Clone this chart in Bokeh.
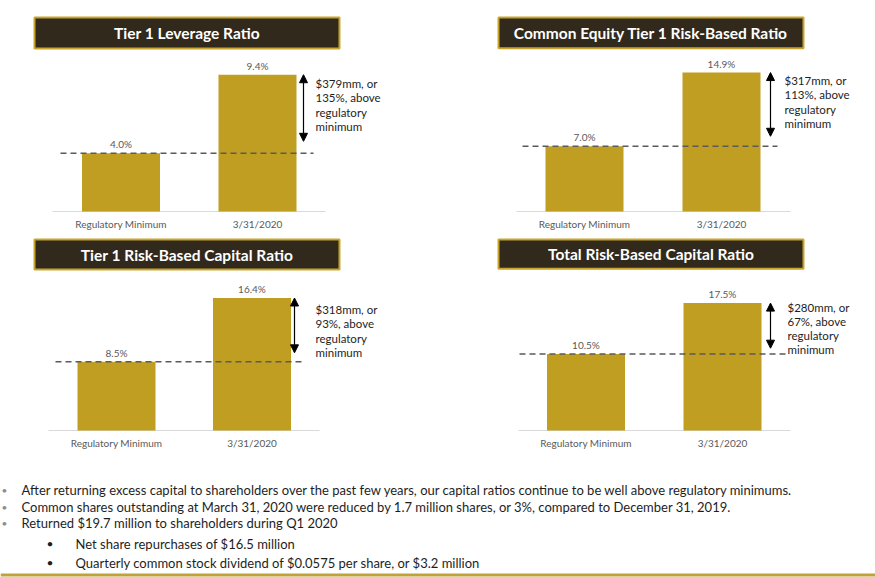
from bokeh.plotting import figure
from bokeh.layouts import column, row
from bokeh.models import Range1d, FixedTicker, Arrow, NormalHead
from bokeh.core.properties import value
from bokeh.embed import file_html
from bokeh.resources import INLINE

# ---------------- data ----------------
categories = ["Regulatory Minimum", "3/31/2020"]
titles = [
    "Tier 1 Leverage Ratio",
    "Common Equity Tier 1 Risk-Based Ratio",
    "Tier 1 Risk-Based Capital Ratio",
    "Total Risk-Based Capital Ratio",
]
regulatory_minimum = [4.0, 7.0, 8.5, 10.5]
ratio_2020 = [9.4, 14.9, 16.4, 17.5]
excess_notes = [
    ["$379mm, or", "135%, above", "regulatory", "minimum"],
    ["$317mm, or", "113%, above", "regulatory", "minimum"],
    ["$318mm, or", "93%, above", "regulatory", "minimum"],
    ["$280mm, or", "67%, above", "regulatory", "minimum"],
]
summary_lines = [
    "After returning excess capital to shareholders over the past few years, our capital ratios continue to be well above regulatory minimums.",
    "Common shares outstanding at March 31, 2020 were reduced by 1.7 million shares, or 3%, compared to December 31, 2019.",
    "Returned $19.7 million to shareholders during Q1 2020",
]
sub_bullets = [
    "Net share repurchases of $16.5 million",
    "Quarterly common stock dividend of $0.0575 per share, or $3.2 million",
]

# ---------------- styles / layout (page pixels) ----------------
GOLD = "#BF9E21"
DARK = "#31291C"
BORDER = "#C8A42C"
GRAY = "#595959"
TEXT = "#1E1E1E"
FONT = "Lato"

panels = [
    dict(ox=0, oy=0, w=438, h=237, c0=120.5, ppu=136.5, base=211, ppp=14.55,
         tl=34, tr=339, tt=17, tb=48, bl=52, br=325, dl=60, dr=313,
         ax=303, gap=12, nx=315, ny=83),
    dict(ox=438, oy=0, w=437, h=237, c0=584, ppu=137, base=212, ppp=9.37,
         tl=498, tr=803, tt=17, tb=48, bl=516, br=790, dl=522, dr=777,
         ax=770, gap=10, nx=784, ny=80.5),
    dict(ox=0, oy=237, w=438, h=225, c0=116, ppu=135.5, base=430, ppp=8.08,
         tl=34, tr=339, tt=239, tb=269, bl=48, br=319, dl=55, dr=305,
         ax=294, gap=9, nx=315, ny=309),
    dict(ox=438, oy=237, w=437, h=225, c0=585.5, ppu=136.5, base=434, ppp=7.43,
         tl=498, tr=803, tt=239, tb=269, bl=518, br=790, dl=519, dr=787,
         ax=770, gap=6, nx=787, ny=308),
]


def make_panel(i, L):
    X = lambda px: (px - L["c0"]) / L["ppu"]
    Y = lambda py: (L["base"] - py) / L["ppp"]
    fb = L["base"] + 1
    p = figure(width=L["w"], height=L["h"], output_backend="svg", toolbar_location=None,
               x_range=Range1d(X(L["ox"]), X(L["ox"] + L["w"])),
               y_range=Range1d(Y(fb), Y(L["oy"])),
               min_border_left=0, min_border_right=0, min_border_top=0,
               min_border_bottom=L["oy"] + L["h"] - fb, y_axis_location=None)
    p.grid.visible = False
    p.outline_line_color = None
    p.background_fill_color = "white"
    p.border_fill_color = "white"

    # title bar
    p.quad(left=[X(L["tl"])], right=[X(L["tr"])], top=[Y(L["tt"])], bottom=[Y(L["tb"])],
           fill_color=DARK, line_color=BORDER, line_width=2)
    p.text(x=[X((L["tl"] + L["tr"]) / 2)], y=[Y((L["tt"] + L["tb"]) / 2)], text=[titles[i]],
           text_font=value(FONT), text_font_style="bold", text_font_size="15.5px",
           text_color="white", text_align="center", text_baseline="middle")

    # baseline
    p.segment(x0=[X(L["bl"])], y0=[0], x1=[X(L["br"])], y1=[0], line_color="#D9D9D9", line_width=1)

    vals = [regulatory_minimum[i], ratio_2020[i]]
    p.vbar(x=[0, 1], top=vals, bottom=0, width=78 / L["ppu"], fill_color=GOLD, line_color=None)
    p.text(x=[0, 1], y=vals, text=[f"{v:.1f}%" for v in vals], y_offset=-3,
           text_font=value(FONT), text_font_size="10px", text_color=GRAY,
           text_align="center", text_baseline="bottom")

    # dashed regulatory minimum line
    p.segment(x0=[X(L["dl"])], y0=[regulatory_minimum[i]], x1=[X(L["dr"])], y1=[regulatory_minimum[i]],
              line_color="#5A5A5A", line_width=1.5, line_dash="6 4")

    # arrow
    p.add_layout(Arrow(start=NormalHead(size=8, fill_color="black", line_color="black"),
                       end=NormalHead(size=8, fill_color="black", line_color="black"),
                       x_start=X(L["ax"]), y_start=ratio_2020[i],
                       x_end=X(L["ax"]), y_end=regulatory_minimum[i] + L["gap"] / L["ppp"],
                       line_color="black", line_width=1.2))

    # note text
    for j, line in enumerate(excess_notes[i]):
        p.text(x=[X(L["nx"])], y=[Y(L["ny"] + j * 14.4)], text=[line],
               text_font=value(FONT), text_font_size="11.5px", text_color=TEXT,
               text_align="left", text_baseline="middle")

    # category axis
    p.xaxis.ticker = FixedTicker(ticks=[0, 1])
    p.xaxis.major_label_overrides = {0: categories[0], 1: categories[1]}
    p.xaxis.axis_line_color = None
    p.xaxis.major_tick_line_color = None
    p.xaxis.minor_tick_line_color = None
    p.xaxis.major_tick_out = 0
    p.xaxis.major_tick_in = 0
    p.xaxis.major_label_text_font = FONT
    p.xaxis.major_label_text_font_size = "10px"
    p.xaxis.major_label_text_color = GRAY
    p.xaxis.major_label_standoff = 5
    return p


figs = [make_panel(i, L) for i, L in enumerate(panels)]

# ---------------- text block ----------------
pt = figure(width=875, height=115, output_backend="svg", toolbar_location=None,
            x_range=Range1d(0, 875), y_range=Range1d(577, 462),
            min_border_left=0, min_border_right=0, min_border_top=0, min_border_bottom=0,
            x_axis_location=None, y_axis_location=None)
pt.grid.visible = False
pt.outline_line_color = None

main_y = [489, 506, 522]
for yv, line in zip(main_y, summary_lines):
    pt.text(x=[1], y=[yv], text=["\u2022"], text_font=value(FONT), text_font_size="10px",
            text_color="#8C8C8C", text_align="left", text_baseline="middle")
    pt.text(x=[21], y=[yv], text=[line], text_font=value(FONT), text_font_size="13px",
            text_color=TEXT, text_align="left", text_baseline="middle")
sub_y = [543, 562]
for yv, line in zip(sub_y, sub_bullets):
    pt.text(x=[46], y=[yv], text=["\u2022"], text_font=value(FONT), text_font_size="12px",
            text_color=TEXT, text_align="left", text_baseline="middle")
    pt.text(x=[75], y=[yv], text=[line], text_font=value(FONT), text_font_size="13px",
            text_color=TEXT, text_align="left", text_baseline="middle")
pt.quad(left=[0], right=[875], top=[573], bottom=[576], fill_color="#BFA23A", line_color=None)

layout = column(row(figs[0], figs[1]), row(figs[2], figs[3]), pt)

with open("out.html", "w") as f:
    f.write(file_html(layout, INLINE))
